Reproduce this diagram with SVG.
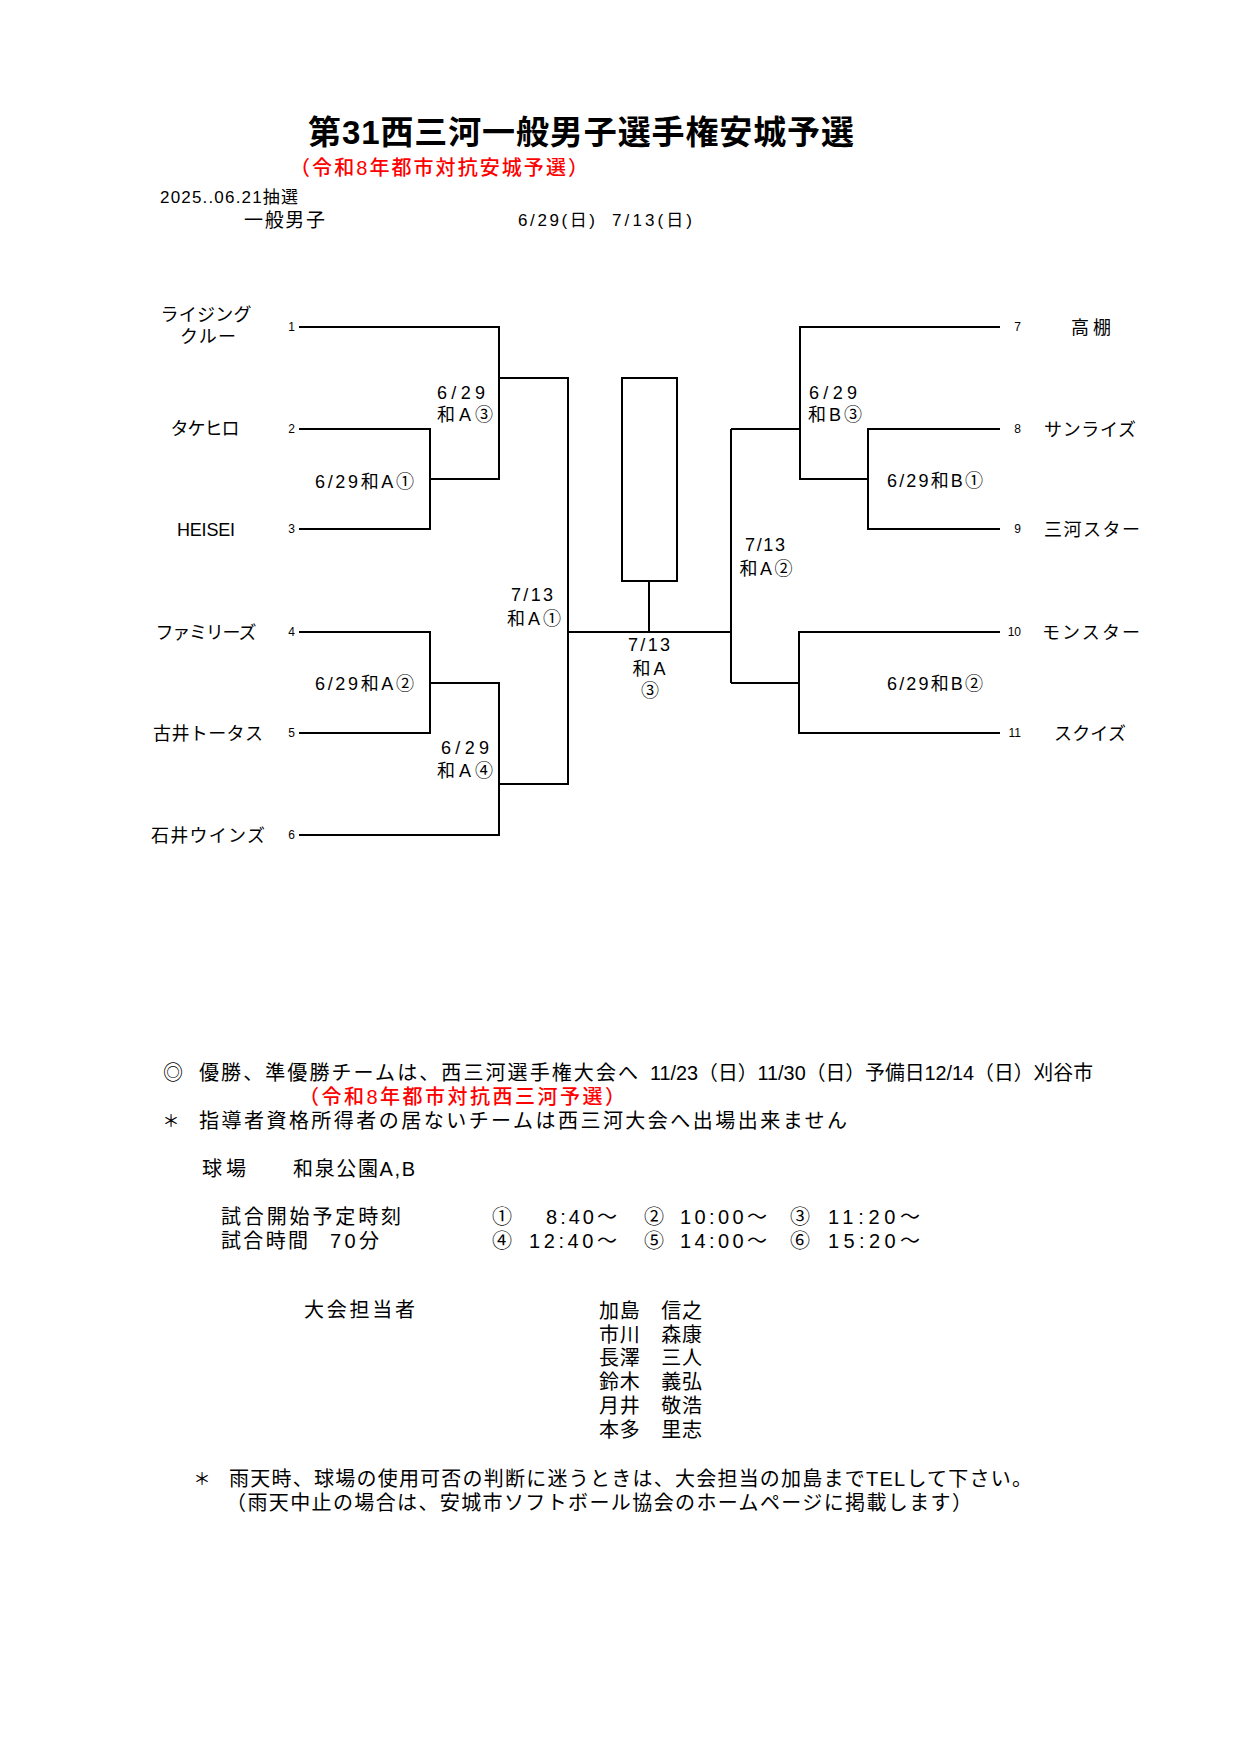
<svg xmlns="http://www.w3.org/2000/svg" width="1241" height="1755" viewBox="0 0 1241 1755">
<style>
text{font-family:"Liberation Sans","Noto Sans CJK JP",sans-serif;fill:#000;dominant-baseline:central}
.title{font-size:33px;font-weight:bold}
.red{fill:#ff0000;font-size:20px;font-weight:500}
.hd{font-size:17px}
.team{font-size:18px}
.num{font-size:12px}
.lbl{font-size:18px}
.body{font-size:20px}
.mid{text-anchor:middle}
.end{text-anchor:end}
.ln{fill:none;stroke:#000;stroke-width:2}
</style>
<rect width="1241" height="1755" fill="#fff"/>

<g id="header" transform="translate(0,1)">
<text class="title" x="308" y="131" textLength="546">第31西三河一般男子選手権安城予選</text>
<text class="red" x="290" y="167" textLength="298">（令和8年都市対抗安城予選）</text>
<text class="hd" x="160" y="196" textLength="138">2025..06.21抽選</text>
<text class="hd" x="244" y="219" textLength="81" style="font-size:19px">一般男子</text>
<text class="hd" x="518" y="219" textLength="77">6/29(日)</text>
<text class="hd" x="612" y="219" textLength="80">7/13(日)</text>
</g>

<g id="connectors" class="ln">
<path d="M299 327 H499 V479 H430"/>
<path d="M299 429 H430 V529 H299"/>
<path d="M499 378 H568 V784 H499"/>
<path d="M299 632 H430 V733 H299"/>
<path d="M430 683 H499 V835 H299"/>
<path d="M568 632 H731"/>
<path d="M731 429 V683"/>
<path d="M731 429 H800"/>
<path d="M1000 327 H800 V479 H868"/>
<path d="M1000 429 H868 V529 H1000"/>
<path d="M731 683 H799"/>
<path d="M1000 632 H799 V733 H1000"/>
<path d="M649 581 V632"/>
</g>

<g id="champion">
<rect class="ln" x="622" y="378" width="55" height="203"/>
</g>

<g id="team1"><text class="team mid" x="206" y="315" textLength="91">ライジング</text><text class="team mid" x="208" y="337" textLength="56">クルー</text><text class="num end" x="295" y="327">1</text></g>
<g id="team2"><text class="team mid" x="205" y="429" textLength="69">タケヒロ</text><text class="num end" x="295" y="429">2</text></g>
<g id="team3"><text class="team mid" x="206" y="530" textLength="58">HEISEI</text><text class="num end" x="295" y="529">3</text></g>
<g id="team4"><text class="team mid" x="206" y="633" textLength="101">ファミリーズ</text><text class="num end" x="295" y="632">4</text></g>
<g id="team5"><text class="team mid" x="208" y="734" textLength="110">古井トータス</text><text class="num end" x="295" y="733">5</text></g>
<g id="team6"><text class="team mid" x="208" y="836" textLength="114">石井ウインズ</text><text class="num end" x="295" y="835">6</text></g>
<g id="team7"><text class="num end" x="1021" y="327">7</text><text class="team mid" x="1091" y="328" textLength="40">高棚</text></g>
<g id="team8"><text class="num end" x="1021" y="429">8</text><text class="team mid" x="1090" y="430" textLength="92">サンライズ</text></g>
<g id="team9"><text class="num end" x="1021" y="529">9</text><text class="team mid" x="1092" y="530" textLength="96">三河スター</text></g>
<g id="team10"><text class="num end" x="1021" y="632">10</text><text class="team mid" x="1091" y="633" textLength="98">モンスター</text></g>
<g id="team11"><text class="num end" x="1021" y="733">11</text><text class="team mid" x="1090" y="734" textLength="72">スクイズ</text></g>

<g id="matchA3"><text class="lbl mid" x="461" y="393" textLength="48">6/29</text><text class="lbl mid" x="465" y="415" textLength="56">和A③</text></g>
<g id="matchA1"><text class="lbl" x="315" y="482" textLength="99">6/29和A①</text></g>
<g id="matchA2"><text class="lbl" x="315" y="684" textLength="99">6/29和A②</text></g>
<g id="matchA4"><text class="lbl mid" x="465" y="748" textLength="48">6/29</text><text class="lbl mid" x="465" y="771" textLength="56">和A④</text></g>
<g id="semiA1"><text class="lbl mid" x="532" y="595" textLength="42">7/13</text><text class="lbl mid" x="534" y="619" textLength="54">和A①</text></g>
<g id="matchB3"><text class="lbl mid" x="833" y="393" textLength="48">6/29</text><text class="lbl mid" x="835" y="415" textLength="54">和B③</text></g>
<g id="matchB1"><text class="lbl" x="887" y="481" textLength="96">6/29和B①</text></g>
<g id="matchB2"><text class="lbl" x="887" y="684" textLength="96">6/29和B②</text></g>
<g id="semiA2"><text class="lbl mid" x="765" y="545" textLength="40">7/13</text><text class="lbl mid" x="766" y="569" textLength="53">和A②</text></g>
<g id="final"><text class="lbl mid" x="649" y="645" textLength="42">7/13</text><text class="lbl mid" x="649" y="669" textLength="33">和A</text><text class="lbl mid" x="650" y="691">③</text></g>

<g id="notes" transform="translate(0,1)">
<text class="body" x="163" y="1072">◎</text>
<text class="body" x="199" y="1072" textLength="439">優勝、準優勝チームは、西三河選手権大会へ</text>
<text class="body" x="650" y="1072" textLength="443" lengthAdjust="spacingAndGlyphs">11/23（日）11/30（日）予備日12/14（日）刈谷市</text>
<text class="red" x="299" y="1096" textLength="326">（令和8年都市対抗西三河予選）</text>
<text class="body mid" x="171" y="1120" style="font-size:17px">＊</text>
<text class="body" x="199" y="1120" textLength="648">指導者資格所得者の居ないチームは西三河大会へ出場出来ません</text>
<text class="body" x="202" y="1168" textLength="44">球場</text>
<text class="body" x="293" y="1168" textLength="122">和泉公園A,B</text>
<text class="body" x="221" y="1216" textLength="180">試合開始予定時刻</text>
<text class="body" x="221" y="1240" textLength="87">試合時間</text>
<text class="body" x="330" y="1240" textLength="49">70分</text>
<text class="body" x="492" y="1216">①</text>
<text class="body end" x="617" y="1216" textLength="71">8:40～</text>
<text class="body" x="644" y="1216">②</text>
<text class="body end" x="767" y="1216" textLength="87">10:00～</text>
<text class="body" x="790" y="1216">③</text>
<text class="body end" x="920" y="1216" textLength="92">11:20～</text>
<text class="body" x="492" y="1240">④</text>
<text class="body end" x="617" y="1240" textLength="88">12:40～</text>
<text class="body" x="644" y="1240">⑤</text>
<text class="body end" x="767" y="1240" textLength="87">14:00～</text>
<text class="body" x="790" y="1240">⑥</text>
<text class="body end" x="920" y="1240" textLength="92">15:20～</text>
<text class="body" x="304" y="1309" textLength="111">大会担当者</text>
<text class="body" x="599" y="1310" textLength="103">加島　信之</text>
<text class="body" x="599" y="1334" textLength="103">市川　森康</text>
<text class="body" x="599" y="1357" textLength="103">長澤　三人</text>
<text class="body" x="599" y="1381" textLength="103">鈴木　義弘</text>
<text class="body" x="599" y="1405" textLength="103">月井　敬浩</text>
<text class="body" x="599" y="1429" textLength="103">本多　里志</text>
<text class="body mid" x="202" y="1478" style="font-size:17px">＊</text>
<text class="body" x="229" y="1478" textLength="803">雨天時、球場の使用可否の判断に迷うときは、大会担当の加島までTELして下さい。</text>
<text class="body" x="226" y="1502" textLength="746">（雨天中止の場合は、安城市ソフトボール協会のホームページに掲載します）</text>
</g>
</svg>
